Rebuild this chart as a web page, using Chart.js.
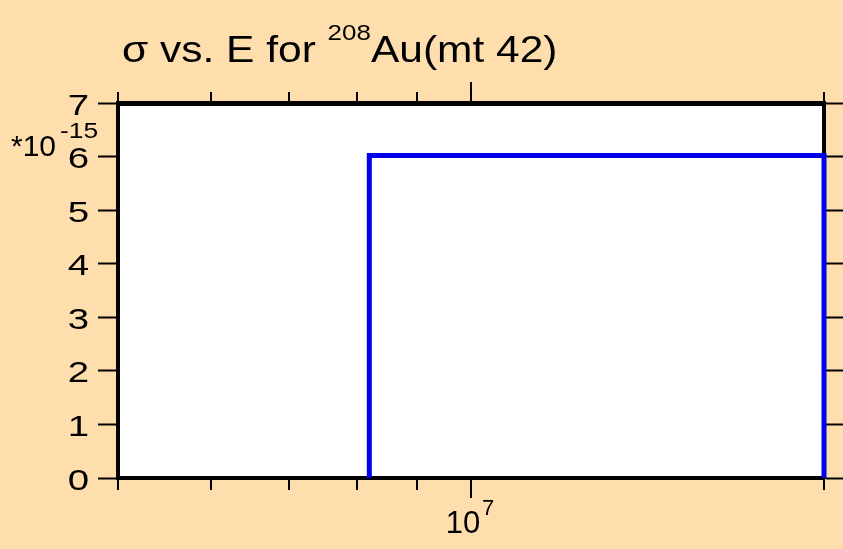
<!DOCTYPE html>
<html>
<head>
<meta charset="utf-8">
<script src="https://cdn.jsdelivr.net/npm/chart.js@4/dist/chart.umd.min.js"></script>
<style>
  html, body { margin: 0; padding: 0; background: #FFDEAD; }
  #wrap { width: 843px; height: 549px; position: relative; }
</style>
</head>
<body>
<div id="wrap"><canvas id="c" width="843" height="549"></canvas></div>
<script>
// ---- data ----
const energies = [8.19e6, 8.19e6, 2.0e7, 2.0e7];      // E (eV)
const sigma = [0, 6.02, 6.02, 0];                    // cross section, units of 1e-15
const yTicks = [0, 1, 2, 3, 4, 5, 6, 7];
const xTicks = [5e6, 6e6, 7e6, 8e6, 9e6, 1e7, 2e7];
const xMajor = [1e7];
const titleMain = "σ vs. E for ";
const titleSup = "208";
const titleTail = "Au(mt 42)";
const yExpBase = "*10";
const yExp = "-15";

const FONT = "'Liberation Sans', Arial, Helvetica, sans-serif";

const points = energies.map((e, i) => ({ x: e, y: sigma[i] }));

// draw a run of text parts, each {text, size, dy, sx, gap}
function drawParts(ctx, x, y, parts) {
  let cx = x;
  for (const p of parts) {
    const sx = p.sx || 1;
    ctx.font = p.size + "px " + FONT;
    const w = ctx.measureText(p.text).width * sx;
    ctx.save();
    ctx.translate(cx, y + (p.dy || 0));
    ctx.scale(sx, 1);
    ctx.textAlign = 'left';
    ctx.fillText(p.text, 0, 0);
    ctx.restore();
    cx += w + (p.gap || 0);
  }
  return cx;
}
function widthOf(ctx, parts) {
  let w = 0;
  for (const p of parts) {
    ctx.font = p.size + "px " + FONT;
    w += ctx.measureText(p.text).width * (p.sx || 1) + (p.gap || 0);
  }
  return w;
}

const decor = {
  id: 'decor',
  afterDraw(chart) {
    const ctx = chart.ctx;
    const xs = chart.scales.x;
    const ys = chart.scales.y;
    const area = chart.chartArea;
    ctx.save();
    ctx.strokeStyle = '#000';
    ctx.fillStyle = '#000';
    ctx.lineWidth = 2;
    // x tick marks, bottom and top
    for (const v of xTicks) {
      const px = Math.round(xs.getPixelForValue(v));
      const major = xMajor.includes(v);
      ctx.beginPath();
      ctx.moveTo(px, area.bottom);
      ctx.lineTo(px, area.bottom + (major ? 20 : 12));
      ctx.moveTo(px, area.top);
      ctx.lineTo(px, area.top - (major ? 21 : 11));
      ctx.stroke();
    }
    ctx.textBaseline = 'alphabetic';
    // y tick labels (right-aligned, horizontally widened like the reference)
    for (const v of yTicks) {
      const py = ys.getPixelForValue(v);
      const parts = [{ text: String(v), size: 30, sx: 1.28 }];
      const w = widthOf(ctx, parts);
      drawParts(ctx, 89 - w, py + 11.5, parts);
    }
    // x major label 10^7
    for (const v of xMajor) {
      const px = xs.getPixelForValue(v);
      const exp = Math.round(Math.log10(v));
      const parts = [{ text: "10", size: 31, gap: 2 }, { text: String(exp), size: 22, dy: -18 }];
      const w = widthOf(ctx, parts);
      drawParts(ctx, px - w / 2 - 1, 533, parts);
    }
    // y exponent label
    drawParts(ctx, 11, 156, [{ text: yExpBase, size: 30, gap: 4 }, { text: yExp, size: 22, dy: -18, sx: 1.2 }]);
    // title
    drawParts(ctx, 122, 62, [
      { text: titleMain, size: 36, sx: 1.18 },
      { text: titleSup, size: 22, dy: -22, sx: 1.18 },
      { text: titleTail, size: 36, sx: 1.18 }
    ]);
    ctx.restore();
  }
};

new Chart(document.getElementById('c'), {
  type: 'scatter',
  data: {
    datasets: [{
      data: points,
      showLine: true,
      borderColor: 'rgb(0,0,235)',
      backgroundColor: 'rgb(0,0,235)',
      borderWidth: 5,
      pointRadius: 0,
      tension: 0,
      clip: 3
    }]
  },
  options: {
    responsive: false,
    animation: false,
    events: [],
    layout: { padding: 0 },
    plugins: { legend: { display: false }, tooltip: { enabled: false }, title: { display: false } },
    scales: {
      x: {
        type: 'logarithmic', position: 'bottom', min: 5e6, max: 2e7,
        afterBuildTicks: s => { s.ticks = xTicks.map(v => ({ value: v })); },
        ticks: { display: false },
        grid: { display: false },
        border: { display: true, width: 4, color: '#000' },
        afterFit: s => { s.height = 71; }
      },
      x2: {
        type: 'logarithmic', position: 'top', min: 5e6, max: 2e7,
        afterBuildTicks: s => { s.ticks = xTicks.map(v => ({ value: v })); },
        ticks: { display: false },
        grid: { display: false },
        border: { display: true, width: 5, color: '#000' },
        afterFit: s => { s.height = 103; }
      },
      y: {
        type: 'linear', position: 'left', min: 0, max: 7,
        afterBuildTicks: s => { s.ticks = yTicks.map(v => ({ value: v })); },
        ticks: { display: false },
        grid: { drawOnChartArea: false, drawTicks: true, tickLength: 20, tickColor: '#000', tickWidth: 2 },
        border: { display: true, width: 4, color: '#000' },
        afterFit: s => { s.width = 118; }
      },
      y2: {
        type: 'linear', position: 'right', min: 0, max: 7,
        afterBuildTicks: s => { s.ticks = yTicks.map(v => ({ value: v })); },
        ticks: { display: false },
        grid: { drawOnChartArea: false, drawTicks: true, tickLength: 19, tickColor: '#000', tickWidth: 2 },
        border: { display: true, width: 4, color: '#000' },
        afterFit: s => { s.width = 19; }
      }
    }
  },
  plugins: [{
    id: 'bg',
    beforeDraw(chart) {
      const { ctx, chartArea: a } = chart;
      ctx.save();
      ctx.fillStyle = '#fff';
      ctx.fillRect(a.left, a.top, a.right - a.left, a.bottom - a.top);
      ctx.restore();
    }
  }, decor]
});
</script>
</body>
</html>
